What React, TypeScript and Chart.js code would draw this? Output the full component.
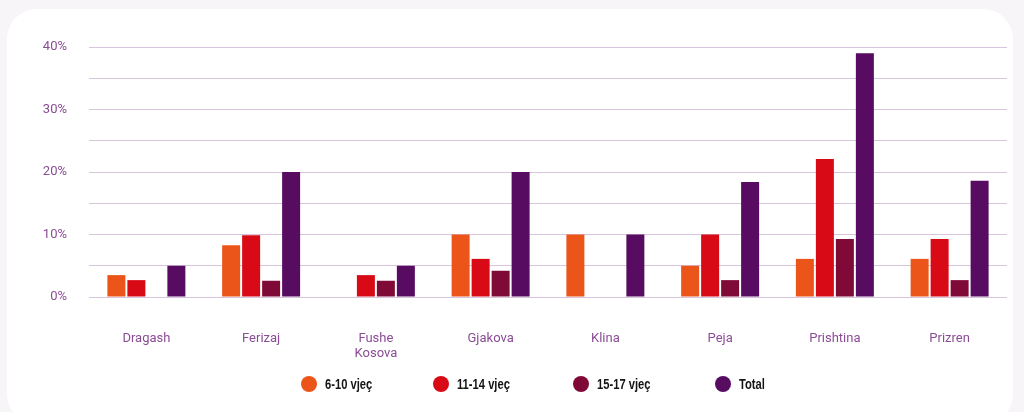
import React, { useEffect, useRef } from "react";
import { Chart, registerables } from "chart.js";

Chart.register(...registerables);

const categories: (string | string[])[] = [
  "Dragash",
  "Ferizaj",
  ["Fushe", "Kosova"],
  "Gjakova",
  "Klina",
  "Peja",
  "Prishtina",
  "Prizren",
];

const seriesLabels = ["6-10 vjeç", "11-14 vjeç", "15-17 vjeç", "Total"];
const age6to10 = [3.5, 8.3, 0, 10, 10, 5, 6.1, 6.1];
const age11to14 = [2.7, 9.9, 3.5, 6.1, 0, 10, 22.1, 9.3];
const age15to17 = [0, 2.6, 2.6, 4.2, 0, 2.7, 9.3, 2.7];
const totalValues = [5, 20, 5, 20, 10, 18.4, 39, 18.6];

const seriesColors = ["#EC5519", "#D70A15", "#800A37", "#570C62"];
const legendLeft = [301, 433, 573, 715];

const TEXT_COLOR = "#8a4c94";
const GRID_COLOR = "#d8c4dd";

export default function App() {
  const canvasRef = useRef<HTMLCanvasElement | null>(null);

  useEffect(() => {
    if (!canvasRef.current) return;
    const values = [age6to10, age11to14, age15to17, totalValues];
    const chart = new Chart(canvasRef.current, {
      type: "bar",
      data: {
        labels: categories,
        datasets: seriesLabels.map((label, i) => ({
          label,
          data: values[i],
          backgroundColor: seriesColors[i],
          borderWidth: 0,
          categoryPercentage: 0.697,
          barPercentage: 0.9,
        })),
      },
      options: {
        animation: false,
        responsive: false,
        maintainAspectRatio: false,
        layout: { padding: { left: 0, right: 17, top: 47, bottom: 52 } },
        plugins: {
          legend: { display: false },
          tooltip: { enabled: false },
        },
        scales: {
          x: {
            grid: { display: false, drawTicks: false },
            border: { display: false },
            ticks: {
              color: TEXT_COLOR,
              font: { family: "Roboto", size: 13, lineHeight: 1.15 },
              padding: 34,
              maxRotation: 0,
              autoSkip: false,
            },
            afterFit: (scale: any) => {
              scale.height = 63;
            },
          },
          y: {
            min: 0,
            max: 40,
            grid: { color: GRID_COLOR, lineWidth: 1, drawTicks: false },
            border: { display: false },
            ticks: {
              stepSize: 5,
              color: TEXT_COLOR,
              font: { family: "Roboto", size: 13 },
              padding: 22,
              callback: (v: any) => (Number(v) % 10 === 0 ? v + "%" : ""),
            },
            afterFit: (scale: any) => {
              scale.width = 89;
            },
          },
        },
      },
    });
    return () => chart.destroy();
  }, []);

  return (
    <div
      style={{
        position: "fixed",
        left: 0,
        top: 0,
        width: 1024,
        height: 412,
        background: "#f7f5f8",
        overflow: "hidden",
      }}
    >
      <div
        style={{
          position: "absolute",
          left: 7,
          top: 9,
          width: 1006,
          height: 415,
          borderRadius: 30,
          background: "#ffffff",
        }}
      />
      <canvas
        ref={canvasRef}
        width={1024}
        height={412}
        style={{ position: "absolute", left: 0, top: 0, width: 1024, height: 412 }}
      />
      {seriesLabels.map((label, i) => (
        <div
          key={label}
          style={{
            position: "absolute",
            left: legendLeft[i],
            top: 376,
            height: 16,
            display: "flex",
            alignItems: "center",
            whiteSpace: "nowrap",
          }}
        >
          <span
            style={{
              display: "inline-block",
              width: 16,
              height: 16,
              borderRadius: 8,
              background: seriesColors[i],
              marginRight: 8,
              flex: "none",
            }}
          />
          <span
            style={{
              fontFamily: '"Liberation Sans", Arial, sans-serif',
              fontWeight: 700,
              fontSize: 14,
              color: "#151515",
              lineHeight: "16px",
              display: "inline-block",
              transform: "scaleX(0.8)",
              transformOrigin: "left center",
            }}
          >
            {label}
          </span>
        </div>
      ))}
    </div>
  );
}
